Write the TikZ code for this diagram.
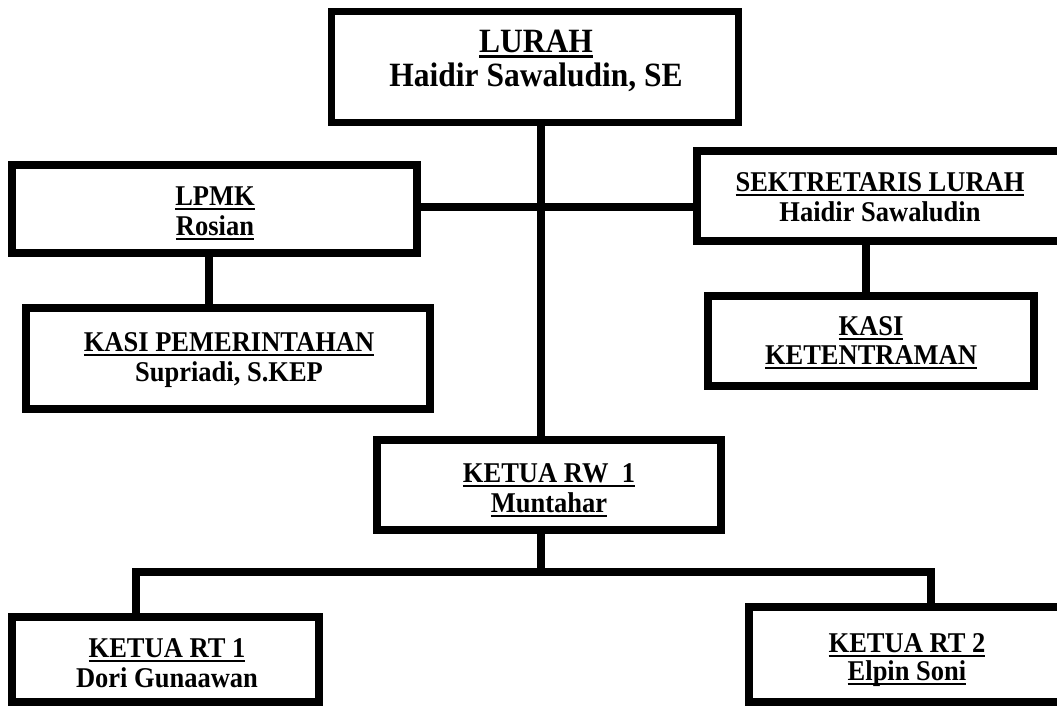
\documentclass[tikz,border=0pt]{standalone}
\usepackage{fontspec}
\usepackage{graphicx}
\setmainfont{Liberation Serif}
\usetikzlibrary{fit}
\newsavebox\ulbox
\newcommand\myul[1]{\sbox\ulbox{#1}\rlap{\rule[-0.19em]{\wd\ulbox}{0.09em}}\usebox\ulbox}
\newcommand\tall[1]{\scalebox{1}[1.08]{#1}}
\begin{document}
\begin{tikzpicture}[x=1pt,y=-1pt,
  box/.style={draw=black, line width=8pt, inner sep=0pt, fill=white},
  conn/.style={draw=black, line width=8pt},
  txt/.style={anchor=base, inner sep=0pt, font=\fontsize{26.5}{30}\selectfont\bfseries},
  bigtxt/.style={anchor=base, inner sep=0pt, font=\fontsize{31.5}{36}\selectfont\bfseries}]
\useasboundingbox (0,0) rectangle (1057,705);
\clip (0,0) rectangle (1057,705);
\fill[white] (0,0) rectangle (1057,705);

% boxes
\node[box, line width=7pt, fit={(331,11) (738,122)}] (lurah) {};
\node[box, fit={(12,165) (417,253)}] (lpmk) {};
\node[box, fit={(697,151) (1063,241)}] (sek) {};
\node[box, fit={(26,308) (430,409)}] (kpem) {};
\node[box, fit={(708,296) (1034,386)}] (kket) {};
\node[box, fit={(377,440) (721,530)}] (rw) {};
\node[box, fit={(12,617) (319,702)}] (rt1) {};
\node[box, fit={(749,607) (1065,702)}] (rt2) {};

% connector guide coordinates
\coordinate (mainx) at (541,0);
\coordinate (hy) at (0,207);
\coordinate (lpx) at (209,0);
\coordinate (skx) at (866,0);
\coordinate (bus) at (541,572);
\coordinate (rt1x) at (136,0);
\coordinate (rt2x) at (931,0);

% connectors
\draw[conn] (lurah.south -| mainx) -- (rw.north -| mainx);
\draw[conn] (lpmk.east |- hy) -- (sek.west |- hy);
\draw[conn] (lpmk.south -| lpx) -- (kpem.north -| lpx);
\draw[conn] (sek.south -| skx) -- (kket.north -| skx);
\draw[conn] (rw.south -| bus) -- (bus);
\draw[conn] (rt1.north -| rt1x) |- (bus) -| (rt2.north -| rt2x);

% texts
\node[bigtxt] (lurahA) at (536,52) {\tall{\myul{LURAH}}};
\node[bigtxt] (lurahB) at (536,86) {\tall{Haidir Sawaludin, SE}};
\node[txt] (lpmkA) at (215,205) {\tall{\myul{LPMK}}};
\node[txt] (lpmkB) at (215,235) {\tall{\myul{Rosian}}};
\node[txt] (sekA) at (880,191) {\tall{\myul{SEKTRETARIS LURAH}}};
\node[txt] (sekB) at (880,221) {\tall{Haidir Sawaludin}};
\node[txt] (kpemA) at (229,351) {\tall{\myul{KASI PEMERINTAHAN}}};
\node[txt] (kpemB) at (229,381) {\tall{Supriadi, S.KEP}};
\node[txt] (kketA) at (871,335) {\tall{\myul{KASI}}};
\node[txt] (kketB) at (871,364) {\tall{\myul{KETENTRAMAN}}};
\node[txt] (rwA) at (549,482) {\tall{\myul{KETUA RW\ \ 1}}};
\node[txt] (rwB) at (549,512) {\tall{\myul{Muntahar}}};
\node[txt] (rt1A) at (167,657) {\tall{\myul{KETUA RT 1}}};
\node[txt] (rt1B) at (167,687) {\tall{Dori Gunaawan}};
\node[txt] (rt2A) at (907,652) {\tall{\myul{KETUA RT 2}}};
\node[txt] (rt2B) at (907,680) {\tall{\myul{Elpin Soni}}};
\end{tikzpicture}
\end{document}
